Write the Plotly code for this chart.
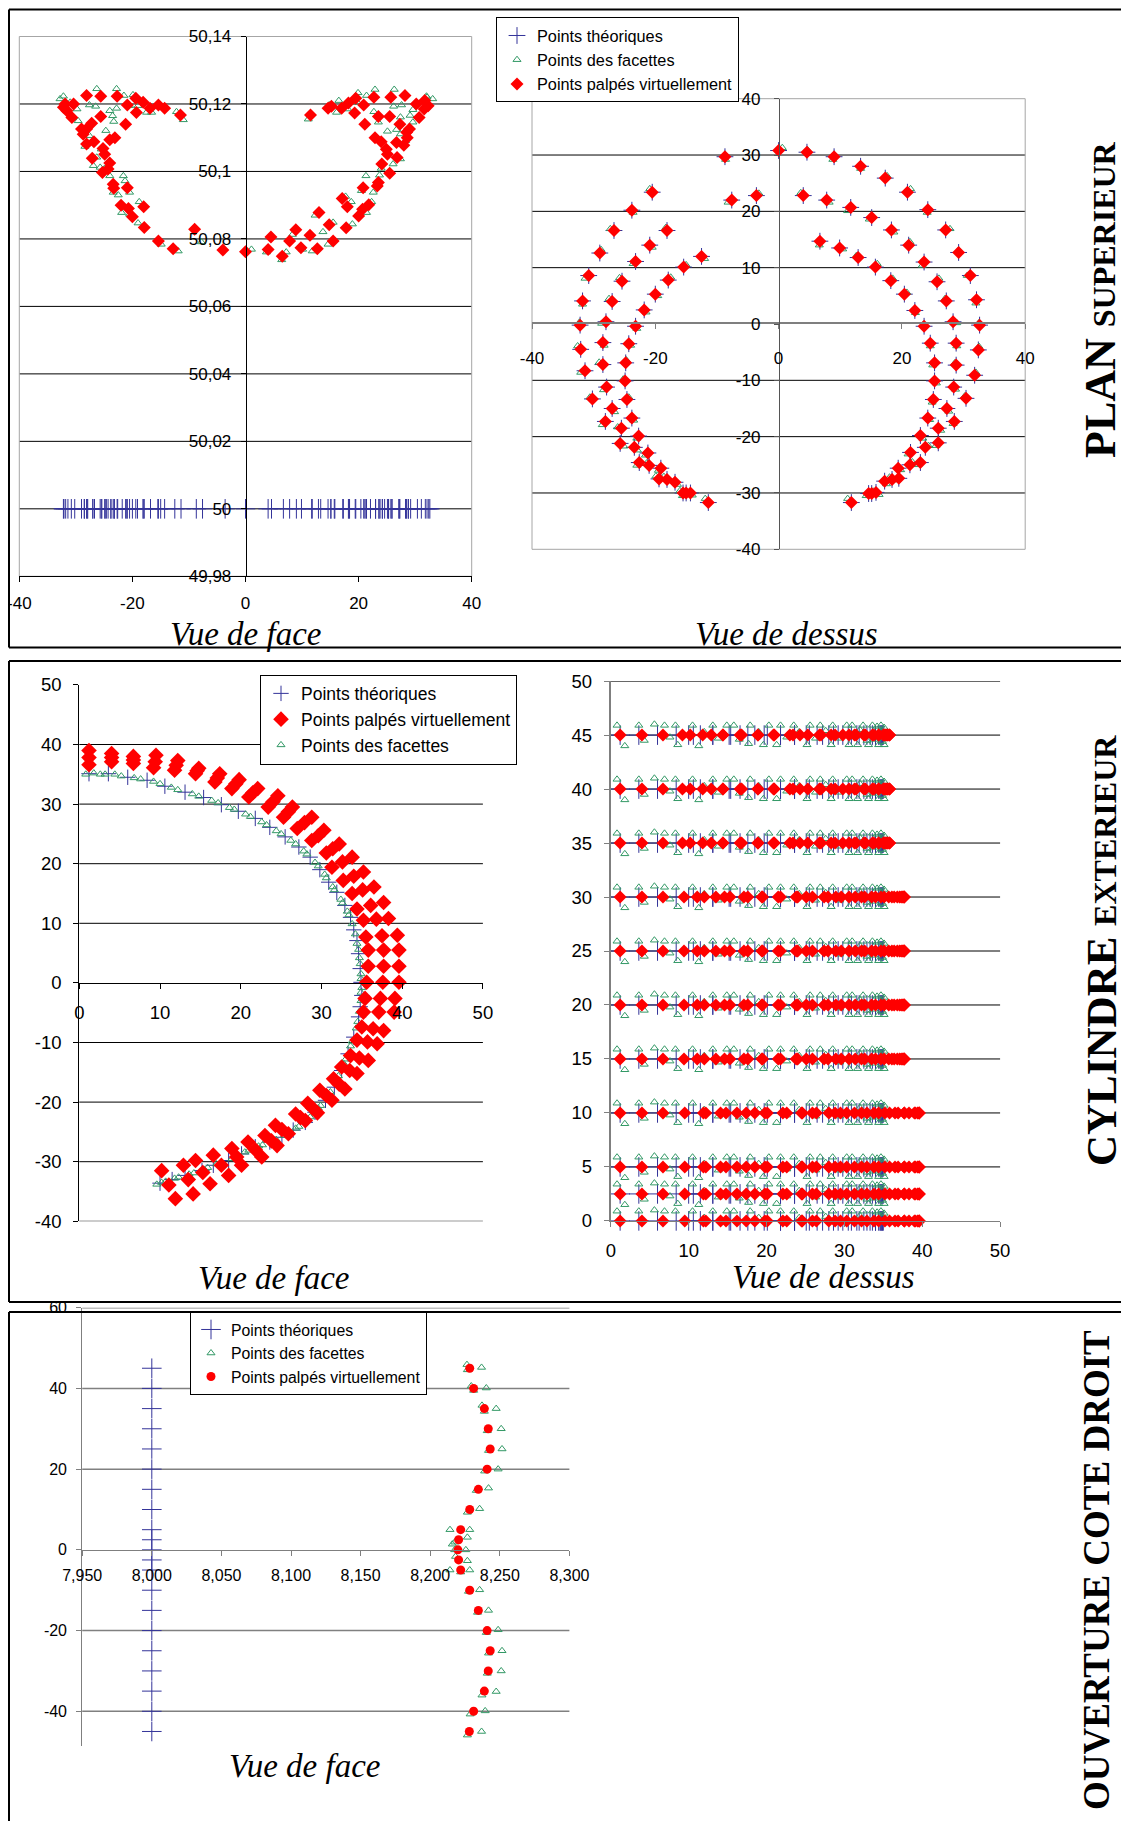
import plotly.graph_objects as go

# ======================= DATA =======================
# ---- PLAN SUPERIEUR : vue de dessus (x, y) ----
plan_palpe_x = [
    -11.4, -14.3, -15.0, -15.5, -19.4, -22.6, -25.7, -28.1, -30.2, -31.4,
    -32.1, -32.2, -31.8, -30.8, -29.0, -26.7, -23.8, -20.5, -8.7, 0.0,
    4.6, 9.0, 13.3, 17.3, 20.9, 24.2, 27.1, 29.2, 31.1, 32.1,
    32.6, 32.4, 31.8, 30.4, 28.5, 25.9, 23.0, 19.5, 15.8, 15.1, 14.6, 11.8,
    -16.8, -18.1, -21.0, -23.4, -25.5, -27.0, -27.9, -28.5, -28.5, -28.0,
    -27.0, -25.4, -23.2, -20.9, -18.1, -7.6, -3.6, 4.0, 7.8, 11.7,
    15.1, 18.3, 21.1, 23.6, 25.7, 27.2, 28.3, 28.8, 28.8, 28.4,
    27.3, 25.9, 23.8, 21.3, 18.4, 17.2,
    -19.1, -21.2, -22.7, -23.8, -24.6, -24.9, -24.8, -24.3, -23.2, -21.8,
    -20.0, -17.9, -15.4, -12.5, 6.7, 9.9, 12.9, 15.7, 18.2, 20.4,
    22.1, 23.6, 24.6, 25.3, 25.3, 25.1, 24.2, 23.0, 21.4, 19.4]
plan_palpe_y = [
    -31.7, -30.0, -30.0, -30.0, -27.5, -24.6, -21.2, -17.3, -13.3, -8.3,
    -4.5, -0.2, 4.1, 8.6, 12.6, 16.6, 20.2, 23.4, 29.7, 30.8,
    30.5, 29.7, 28.0, 25.9, 23.4, 20.3, 16.7, 12.7, 8.6, 4.3,
    -0.2, -4.6, -9.1, -13.2, -17.3, -21.1, -24.6, -27.4, -29.9, -30.1, -30.1, -31.7,
    -28.1, -27.6, -25.1, -21.9, -18.5, -15.0, -11.2, -7.2, -3.3, 0.4,
    4.0, 7.6, 11.1, 14.0, 16.6, 22.0, 22.8, 22.8, 22.0, 20.7,
    18.9, 16.7, 14.0, 11.0, 7.5, 4.1, 0.4, -3.4, -7.3, -11.2,
    -15.0, -18.5, -21.9, -25.0, -27.6, -27.9,
    -25.6, -22.9, -19.9, -16.7, -13.4, -10.1, -6.9, -3.5, -0.4, 2.5,
    5.3, 7.8, 10.1, 12.0, 14.7, 13.5, 11.8, 10.1, 7.7, 5.3,
    2.4, -0.4, -3.4, -6.9, -10.1, -13.4, -16.7, -19.8, -22.8, -25.6]
plan_theo_x = list(plan_palpe_x)
plan_theo_y = list(plan_palpe_y)
plan_facet_x = [
    -11.9, -14.0, -15.6, -16.0, -19.9, -23.0, -25.1, -28.6, -30.6, -32.1,
    -32.6, -32.3, -31.8, -31.4, -28.8, -27.3, -23.6, -20.9, -8.6, 0.6,
    4.7, 8.8, 13.3, 17.6, 21.4, 24.1, 27.8, 29.2, 30.6, 32.0,
    32.5, 32.5, 32.0, 30.2, 28.3, 25.5, 22.6, 19.2, 16.3, 15.4, 14.2, 11.2,
    -16.4, -18.6, -21.4, -22.9, -26.1, -26.6, -28.4, -29.1, -28.3, -28.7,
    -27.5, -25.8, -23.6, -20.5, -18.3, -8.2, -3.2, 3.6, 8.2, 11.2,
    14.7, 18.7, 21.3, 23.3, 26.0, 27.0, 28.9, 28.9, 28.6, 28.7,
    27.6, 26.3, 24.3, 21.7, 18.0, 17.5,
    -19.5, -21.6, -23.0, -23.5, -24.3, -25.2, -24.7, -24.0, -23.0, -21.5,
    -19.6, -17.5, -15.0, -12.0, 6.6, 10.4, 12.6, 16.0, 18.5, 20.8,
    22.2, 23.5, 24.6, 25.0, 25.6, 24.9, 24.5, 23.4, 21.0, 19.8]
plan_facet_y = [
    -31.0, -30.4, -30.5, -29.6, -27.0, -25.1, -21.7, -17.9, -13.0, -8.6,
    -3.9, 0.3, 3.5, 8.1, 13.2, 16.9, 19.8, 24.0, 29.2, 31.3,
    30.9, 29.2, 27.6, 26.3, 24.0, 19.8, 16.9, 13.1, 8.6, 3.7,
    0.2, -4.0, -8.6, -12.8, -17.7, -21.6, -25.0, -27.7, -30.3, -29.7, -30.5, -31.0,
    -28.5, -27.1, -24.7, -22.4, -18.3, -15.6, -11.7, -6.8, -3.8, 0.1,
    4.5, 8.2, 10.7, 13.6, 17.1, 21.6, 23.2, 23.3, 21.6, 20.1,
    18.6, 16.3, 14.6, 10.4, 8.1, 4.5, 0.2, -3.9, -6.9, -11.6,
    -15.5, -18.9, -21.6, -24.5, -27.2, -28.4,
    -26.0, -23.3, -20.3, -17.1, -13.0, -9.8, -6.4, -3.8, -0.8, 2.1,
    5.0, 8.3, 10.5, 11.6, 14.0, 13.3, 12.1, 10.7, 8.1, 5.6,
    2.0, -0.1, -3.9, -7.3, -10.5, -13.9, -17.0, -20.3, -23.1, -25.9]

# ---- PLAN SUPERIEUR : vue de face (x, z) ----
face_theo_x = list(plan_theo_x)
face_theo_z = [50.0] * len(face_theo_x)
face_palpe_x = [
    -31.9, -32.2, -31.6, -30.4, -30.7, -28.1, -25.6, -22.7, -20.9, -19.4,
    -19.3, -18.1, -16.9, -15.4, -14.3, -11.5, -25.6, -21.2, -27.2, -29.0,
    -28.1, -28.7, -26.8, -23.1, -24.0, -28.1, -25.2, -24.9, -27.1, -24.0,
    -24.3, -25.3, -23.4, -23.3, -20.9, -22.0, -20.7, -20.0, -18.0, -17.9,
    -15.4, -12.8, -9.0, -4.0, 0.0,
    4.0, 6.5, 4.5, 7.8, 9.8, 8.9, 11.4, 12.7, 15.5, 13.0,
    14.8, 17.8, 17.1, 18.0, 20.0, 20.7, 21.8, 20.8, 23.3, 23.5,
    24.1, 25.5, 24.9, 25.1, 26.8, 26.7, 28.0, 22.9, 24.0, 28.5,
    29.0, 28.6, 27.3, 21.1, 23.5, 25.5, 30.7, 19.3, 20.9, 18.2,
    19.5, 22.7, 25.7, 28.2, 30.2, 31.7, 32.3, 31.6, 17.0, 14.6, 15.2, 11.5]
face_palpe_z = [
    50.1200, 50.1190, 50.1180, 50.1200, 50.1160, 50.1225, 50.1223, 50.1223, 50.1197, 50.1217,
    50.1175, 50.1205, 50.1187, 50.1197, 50.1187, 50.1167, 50.1163, 50.1140, 50.1143, 50.1126,
    50.1126, 50.1110, 50.1088, 50.1100, 50.1094, 50.1081, 50.1068, 50.1051, 50.1039, 50.1025,
    50.1007, 50.0997, 50.0962, 50.0950, 50.0952, 50.0900, 50.0890, 50.0866, 50.0895, 50.0834,
    50.0794, 50.0771, 50.0829, 50.0767, 50.0762,
    50.0769, 50.0749, 50.0806, 50.0794, 50.0774, 50.0827, 50.0811, 50.0771, 50.0794, 50.0878,
    50.0842, 50.0833, 50.0920, 50.0895, 50.0868, 50.0888, 50.0901, 50.0952, 50.0957, 50.0967,
    50.1022, 50.0995, 50.1066, 50.1051, 50.1041, 50.1086, 50.1078, 50.1100, 50.1088, 50.1116,
    50.1126, 50.1100, 50.1140, 50.1140, 50.1163, 50.1163, 50.1160, 50.1173, 50.1197, 50.1203,
    50.1217, 50.1220, 50.1220, 50.1225, 50.1200, 50.1210, 50.1195, 50.1185, 50.1187, 50.1187, 50.1193, 50.1167]
face_facet_x = [
    -26.3, -22.8, -32.2, -19.9, -21.5, -27.6, -26.5, -29.8, -24.0, -22.8,
    -20.5, -19.0, -17.5, -16.6, -12.2, -11.0, -23.5, -23.3, -29.6, -24.7,
    -27.6, -28.4, -25.5, -26.3, -26.9, -25.7, -24.9, -24.0, -21.6, -21.3,
    -23.4, -22.5, -20.5, -21.9, -20.5, -18.8, -19.0, -14.9, -11.9, -7.8,
    -32.8, -31.0, -14.5,
    1.05, 3.7, 6.4, 7.2, 8.3, 10.1, 11.8, 12.3, 13.7, 14.6,
    15.5, 17.7, 18.7, 18.9, 20.5, 21.3, 21.4, 22.3, 22.6, 23.7,
    24.0, 25.1, 26.1, 27.4, 27.4, 28.3, 26.7, 29.6, 29.1, 27.4,
    25.1, 23.5, 22.7, 26.2, 27.6, 29.6, 22.9, 26.3, 21.4, 19.9,
    19.8, 18.1, 16.5, 16.1, 14.8, 11.1, 32.1, 33.1, 32.0]
face_facet_z = [
    50.1245, 50.1245, 50.1223, 50.1227, 50.1225, 50.1197, 50.1193, 50.1185, 50.1180, 50.1187,
    50.1195, 50.1195, 50.1175, 50.1175, 50.1177, 50.1153, 50.1165, 50.1148, 50.1150, 50.1121,
    50.1106, 50.1074, 50.1066, 50.1042, 50.1017, 50.1012, 50.1009, 50.0987, 50.0987, 50.0972,
    50.0938, 50.0930, 50.0938, 50.0878, 50.0873, 50.0910, 50.0847, 50.0784, 50.0764, 50.0791,
    50.1215, 50.1205, 50.1190,
    50.0769, 50.0761, 50.0738, 50.0761, 50.0813, 50.0769, 50.0764, 50.0870, 50.0821, 50.0784,
    50.0849, 50.0926, 50.0910, 50.0844, 50.0943, 50.0987, 50.0878, 50.0910, 50.0938, 50.0989,
    50.1009, 50.1051, 50.1022, 50.1037, 50.1111, 50.1091, 50.1124, 50.1146, 50.1166, 50.1161,
    50.1119, 50.1146, 50.1177, 50.1193, 50.1197, 50.1183, 50.1243, 50.1243, 50.1225, 50.1233,
    50.1205, 50.1185, 50.1210, 50.1175, 50.1197, 50.1155, 50.1220, 50.1215, 50.1223]

# ---- CYLINDRE EXTERIEUR : vue de face (x, y) ----
cyl_theo_x = [1.2, 3.6, 6.0, 8.4, 10.6, 13.1, 15.4, 17.6, 19.7, 21.8,
              23.6, 25.5, 27.2, 28.6, 29.8, 30.9, 31.9, 32.9, 33.6, 34.0,
              34.4, 34.6, 34.8, 34.9, 35.0, 34.8, 34.6, 34.0, 33.3, 32.5,
              31.6, 30.5, 29.2, 28.0, 26.5, 25.1, 23.6, 21.8, 20.1, 18.5,
              16.6, 15.2, 13.1, 11.5, 10.0]
cyl_theo_y = [35.1, 35.1, 34.5, 34.0, 33.0, 32.0, 31.1, 29.9, 28.8, 27.6,
              26.1, 24.5, 22.8, 21.1, 19.0, 16.9, 15.2, 13.0, 11.0, 8.9,
              7.1, 4.9, 2.4, 0.1, -2.1, -4.0, -5.7, -9.1, -11.9, -14.7,
              -17.5, -19.7, -21.7, -23.4, -24.7, -25.9, -26.7, -27.5, -28.7, -29.8,
              -30.6, -31.5, -32.3, -33.0, -33.6]
cyl_facet_x = [-0.3, 0.8, 1.8, 2.6, 3.2, 4.4, 5.2, 6.8, 7.6, 9.2, 10.0, 11.4, 12.2, 14.0, 14.8,
               16.4, 17.2, 18.6, 19.2, 20.6, 21.2, 22.6, 23.2, 24.4, 25.0, 26.2, 26.8, 27.8,
               28.2, 29.2, 29.6, 30.4, 30.6, 31.4, 31.6, 32.4, 32.6, 33.2, 33.4, 33.8, 34.2,
               34.4, 34.6, 34.7, 34.8, 34.9, 34.9, 35.0, 34.9, 34.9, 34.7, 34.5, 34.3, 33.8,
               33.6, 33.0, 32.8, 32.1, 31.9, 31.1, 30.8, 29.9, 29.6, 28.6, 28.3, 27.2, 26.8,
               25.8, 25.4, 24.4, 23.9, 22.7, 22.2, 21.0, 20.5, 19.3, 18.9, 17.6, 17.0, 15.9,
               15.5, 14.2, 13.6, 12.3, 11.8, 10.7, 10.2, 9.6]
cyl_facet_y = [35.0, 35.0, 35.2, 35.0, 35.0, 35.0, 34.7, 34.4, 34.2, 33.8, 33.4, 32.8, 32.4, 31.7, 31.3,
               30.6, 30.2, 29.4, 29.1, 28.3, 27.9, 27.0, 26.5, 25.5, 25.0, 23.9, 23.3, 22.1,
               21.6, 20.2, 19.6, 18.2, 17.6, 16.1, 15.6, 14.0, 13.4, 12.0, 11.4, 9.9, 8.2,
               6.6, 5.6, 4.2, 3.2, 1.5, 0.7, -0.8, -1.6, -3.0, -4.8, -6.5, -7.6, -9.8,
               -10.6, -12.8, -13.6, -15.6, -16.3, -18.3, -18.9, -20.6, -21.0, -22.5, -22.9, -24.1, -24.4,
               -25.3, -25.6, -26.3, -26.6, -27.2, -27.4, -28.1, -28.4, -29.2, -29.5, -30.2, -30.4, -31.0,
               -31.3, -31.9, -32.1, -32.6, -32.8, -33.3, -33.5, -33.8]
# red streaks: outer / middle / inner end of each probed streak
cyl_palpe_out_x = [1.2, 4.0, 6.7, 9.5, 12.2, 14.8, 17.4, 19.8, 22.1, 24.6, 26.4, 28.8, 30.3, 32.2,
                   33.8, 35.2, 36.5, 37.7, 38.3, 39.4, 39.6, 39.6, 39.6, 39.1, 39.0, 37.7, 36.9,
                   35.8, 34.4, 32.9, 31.3, 29.5, 28.0, 25.9, 24.5, 22.6, 20.1, 18.5, 16.2, 14.1, 11.9]
cyl_palpe_out_y = [39.0, 38.5, 38.0, 38.2, 37.3, 36.0, 35.1, 34.1, 32.6, 31.4, 29.5, 27.8, 25.6, 23.3,
                   21.1, 18.6, 16.1, 13.5, 10.8, 8.0, 5.5, 2.8, 0.1, -2.6, -4.9, -8.0, -10.2,
                   -13.0, -15.2, -17.8, -19.7, -21.8, -23.1, -25.3, -27.3, -29.2, -30.6, -32.3, -33.7, -35.4, -36.2]
cyl_palpe_mid_x = [1.2, 4.0, 6.7, 9.4, 12.0, 14.6, 17.1, 19.4, 21.5, 24.0, 25.9, 27.9, 29.6, 31.4,
                   32.6, 34.0, 35.1, 36.1, 36.8, 37.5, 37.7, 37.7, 37.6, 37.3, 37.1, 36.4, 35.7,
                   34.7, 33.5, 32.2, 30.6, 28.9, 27.4, 25.1, 23.8, 21.8, 19.5, 17.6, 15.3, 13.5, 11.1]
cyl_palpe_mid_y = [37.8, 37.8, 37.4, 37.1, 36.5, 35.6, 34.4, 33.4, 31.9, 30.4, 28.7, 26.9, 24.7, 22.5,
                   20.3, 17.9, 15.6, 13.0, 10.7, 7.9, 5.5, 2.8, 0.1, -2.6, -4.9, -7.7, -9.9,
                   -12.6, -14.7, -17.0, -18.9, -21.0, -22.6, -24.6, -26.5, -28.0, -29.2, -30.6, -31.8, -33.0, -33.9]
cyl_palpe_in_x = [1.2, 4.0, 6.7, 9.2, 11.8, 14.4, 16.8, 18.9, 21.0, 23.4, 25.3, 27.0, 28.8, 30.6,
                  31.3, 32.7, 33.8, 34.4, 35.2, 35.5, 35.8, 35.8, 35.6, 35.4, 35.2, 35.0, 34.4,
                  33.6, 32.5, 31.5, 29.8, 28.3, 26.8, 24.3, 23.0, 20.9, 18.9, 16.6, 14.4, 12.9, 10.2]
cyl_palpe_in_y = [36.6, 37.1, 36.8, 36.1, 35.7, 35.1, 33.7, 32.6, 31.2, 29.5, 27.8, 25.9, 23.9, 21.8,
                  19.4, 17.2, 15.0, 12.4, 10.5, 7.7, 5.5, 2.8, 0.1, -2.6, -4.9, -7.4, -9.6,
                  -12.2, -14.1, -16.1, -18.0, -20.2, -22.0, -23.9, -25.6, -26.7, -27.8, -28.9, -29.8, -30.6, -31.5]

# ---- CYLINDRE EXTERIEUR : vue de dessus (x, z) ----
cyl_levels_out = [0, 2.5, 5, 10]
cyl_levels_mid = [15, 20, 25, 30]
cyl_levels_in = [35, 40, 45]
cyl_top_facet_x = [0.8, 1.8, 3.6, 4.3, 5.6, 6.9, 7.6, 8.3, 8.6, 10.5, 11.3, 12.0, 13.1, 13.8, 14.9,
                   15.8, 16.5, 17.7, 17.9, 19.0, 19.6, 20.3, 21.3, 21.8, 22.6, 23.5, 24.2, 25.2,
                   25.6, 26.3, 26.9, 27.6, 28.3, 28.5, 29.4, 30.3, 30.6, 31.0, 31.7, 32.0, 32.4,
                   32.9, 33.1, 33.6, 33.8, 34.2, 34.4, 34.7, 34.9, 35.1, 35.1, 34.9]
cyl_top_facet_dz = [0.9, -1.0, 0.9, -0.5, 1.0, 0.9, -0.2, 0.9, -0.9, 0.9, -1.0, 0.3, 0.9, -0.3, 0.9,
                    0.9, -0.4, -0.8, 0.9, 0.3, -0.9, 0.9, -0.9, 0.9, -0.2, 0.9, 0.3, -0.9,
                    0.9, -0.3, 0.9, 0.4, -0.9, 0.9, -0.3, 0.9, -0.9, 0.9, -0.9, 0.5, 0.9,
                    -0.5, -0.9, 0.9, -0.4, 0.8, -0.9, 0.9, -0.6, 0.7, -0.9, 0.3]

# ---- OUVERTURE COTE DROIT : vue de face (x, y) ----
ouv_y = [45, 40, 35, 30, 25, 20, 15, 10, 5, 2.5, 0, -2.5, -5, -10, -15, -20, -25, -30, -35, -40, -45]
ouv_theo_x = [8.000] * len(ouv_y)
ouv_palpe_x = [8.2284, 8.2312, 8.2389, 8.2417, 8.2431, 8.2409, 8.2346, 8.2284, 8.2219, 8.2204, 8.2199,
               8.2204, 8.2219, 8.2284, 8.2346, 8.2409, 8.2431, 8.2417, 8.2389, 8.2312, 8.2281]
ouv_facet_x = [8.2267, 8.2369, 8.2264, 8.2295, 8.2403, 8.2312, 8.2372, 8.2474, 8.2389, 8.2410,
               8.2510, 8.2419, 8.2516, 8.2391, 8.2488, 8.2331, 8.2419, 8.2267, 8.2355, 8.2142,
               8.2284, 8.2267, 8.2176, 8.2159, 8.2176, 8.2256, 8.2182, 8.2267, 8.2142, 8.2284,
               8.2219, 8.2275, 8.2355, 8.2340, 8.2419, 8.2403, 8.2488, 8.2419, 8.2516, 8.2410,
               8.2510, 8.2372, 8.2474, 8.2287, 8.2395, 8.2267, 8.2369]
ouv_facet_y = [44.6, 45.2, 45.9, 40.6, 40.1, 39.5, 35.8, 35.0, 34.3, 29.5,
               30.0, 24.6, 25.0, 19.5, 20.0, 14.7, 15.3, 9.3, 10.2, 5.0,
               5.0, 3.1, 1.9, 1.4, 0.0, 0.0, -1.65, -2.7, -5.0, -5.0,
               -5.5, -10.3, -9.9, -15.5, -15.0, -20.5, -19.8, -25.6, -25.0, -30.6,
               -30.0, -36.0, -35.1, -40.7, -39.9, -45.9, -45.0]

# tick values / labels
p1f_xt = [-40, -20, 0, 20, 40]
p1f_yt = [49.98, 50.0, 50.02, 50.04, 50.06, 50.08, 50.10, 50.12, 50.14]
p1f_ytl = ["49,98", "50", "50,02", "50,04", "50,06", "50,08", "50,1", "50,12", "50,14"]
p1d_xt = [-40, -20, 0, 20, 40]
p1d_yt = [-40, -30, -20, -10, 0, 10, 20, 30, 40]
p2f_xt = [0, 10, 20, 30, 40, 50]
p2f_yt = [-40, -30, -20, -10, 0, 10, 20, 30, 40, 50]
p2d_xt = [0, 10, 20, 30, 40, 50]
p2d_yt = [0, 5, 10, 15, 20, 25, 30, 35, 40, 45, 50]
p3_xt = [7.95, 8.00, 8.05, 8.10, 8.15, 8.20, 8.25, 8.30]
p3_xtl = ["7,950", "8,000", "8,050", "8,100", "8,150", "8,200", "8,250", "8,300"]
p3_yt = [-40, -20, 0, 20, 40, 60]

LBL_THEO = "Points théoriques"
LBL_FACET = "Points des facettes"
LBL_PALPE = "Points palpés virtuellement"

# ======================= STYLE / LAYOUT =======================
W, H = 1129, 1821
OFF = 8  # the page places the figure 8 px from the window's top-left corner
def fx(px): return (px - OFF) / W
def fy(py): return 1 - (py - OFF) / H

BLUE = '#333399'
GREEN = '#339966'
RED = '#FF0000'
SANS = 'Liberation Sans, Arial, sans-serif'
SERIF = 'Liberation Serif, Times New Roman, serif'

fig = go.Figure()

def theo(x, y, xa, ya, lg, show, size=12):
    fig.add_trace(go.Scatter(x=x, y=y, mode='markers', name=LBL_THEO, xaxis=xa, yaxis=ya,
                             legend=lg, showlegend=show, legendrank=1, legendgroup=lg + 'a',
                             cliponaxis=False,
                             marker=dict(symbol='cross-thin', size=size, color=BLUE,
                                         line=dict(color=BLUE, width=1))))

def facet(x, y, xa, ya, lg, show, rank, size=7):
    fig.add_trace(go.Scatter(x=x, y=y, mode='markers', name=LBL_FACET, xaxis=xa, yaxis=ya,
                             legend=lg, showlegend=show, legendrank=rank, legendgroup=lg + 'b',
                             cliponaxis=False,
                             marker=dict(symbol='triangle-up-open', size=size, color=GREEN,
                                         line=dict(color=GREEN, width=1))))

def palpe(x, y, xa, ya, lg, show, rank, size=10, symbol='diamond'):
    fig.add_trace(go.Scatter(x=x, y=y, mode='markers', name=LBL_PALPE, xaxis=xa, yaxis=ya,
                             legend=lg, showlegend=show, legendrank=rank, legendgroup=lg + 'c',
                             cliponaxis=False,
                             marker=dict(symbol=symbol, size=size, color=RED, line=dict(width=0))))

# Panel 1 - face (x, y) and dessus (x2, y2) ; legend 1
theo(face_theo_x, face_theo_z, 'x', 'y', 'legend', False, size=14)
facet(face_facet_x, face_facet_z, 'x', 'y', 'legend', False, 2)
palpe(face_palpe_x, face_palpe_z, 'x', 'y', 'legend', False, 3)
theo(plan_theo_x, plan_theo_y, 'x2', 'y2', 'legend', True, size=12)
facet(plan_facet_x, plan_facet_y, 'x2', 'y2', 'legend', True, 2)
palpe(plan_palpe_x, plan_palpe_y, 'x2', 'y2', 'legend', True, 3)

# Panel 2 - face (x3, y3) ; legend 2
theo(cyl_theo_x, cyl_theo_y, 'x3', 'y3', 'legend2', True, size=11)
facet(cyl_facet_x, cyl_facet_y, 'x3', 'y3', 'legend2', True, 3, size=7)
palpe(cyl_palpe_out_x + cyl_palpe_mid_x + cyl_palpe_in_x,
      cyl_palpe_out_y + cyl_palpe_mid_y + cyl_palpe_in_y, 'x3', 'y3', 'legend2', True, 2, size=12)

# Panel 2 - dessus (x4, y4)
top_theo_x, top_theo_z = [], []
top_facet_x, top_facet_z = [], []
top_palpe_x, top_palpe_z = [], []
for lev in cyl_levels_out + cyl_levels_mid + cyl_levels_in:
    top_theo_x += cyl_theo_x
    top_theo_z += [lev] * len(cyl_theo_x)
    top_facet_x += cyl_top_facet_x
    top_facet_z += [lev + d for d in cyl_top_facet_dz]
for levs, src in ((cyl_levels_out, cyl_palpe_out_x), (cyl_levels_mid, cyl_palpe_mid_x),
                  (cyl_levels_in, cyl_palpe_in_x)):
    for lev in levs:
        top_palpe_x += src
        top_palpe_z += [lev] * len(src)
theo(top_theo_x, top_theo_z, 'x4', 'y4', 'legend2', False, size=14)
facet(top_facet_x, top_facet_z, 'x4', 'y4', 'legend2', False, 3, size=7)
palpe(top_palpe_x, top_palpe_z, 'x4', 'y4', 'legend2', False, 2, size=10)

# Panel 3 (x5, y5) ; legend 3
theo(ouv_theo_x, ouv_y, 'x5', 'y5', 'legend3', True, size=14)
facet(ouv_facet_x, ouv_facet_y, 'x5', 'y5', 'legend3', True, 2, size=7)
palpe(ouv_palpe_x, ouv_y, 'x5', 'y5', 'legend3', True, 3, size=9, symbol='circle')

def axis(domain, rng, tickvals, ticktext=None, size=17, color='black', lw=1, standoff=4, **kw):
    d = dict(domain=domain, range=rng, tickmode='array', tickvals=tickvals,
             ticktext=ticktext if ticktext is not None else [str(v) for v in tickvals],
             showgrid=False, zeroline=False, showline=True, linecolor=color, linewidth=lw,
             ticks='outside', ticklen=5, tickcolor=color, tickwidth=1,
             ticklabelstandoff=standoff, automargin=False, ticklabeloverflow='allow',
             tickfont=dict(family=SANS, size=size, color='black'))
    d.update(kw)
    return d

legend_common = dict(xanchor='left', yanchor='top', bgcolor='white', bordercolor='black',
                     borderwidth=1, traceorder='grouped', tracegroupgap=0, itemwidth=30)

fig.update_layout(
    width=W, height=H, margin=dict(l=0, r=0, t=0, b=0, pad=0, autoexpand=False),
    paper_bgcolor='white', plot_bgcolor='white',
    # panel 1 face
    xaxis=axis([fx(19.3), fx(471.7)], [-40, 40], p1f_xt, anchor='y', standoff=6),
    yaxis=axis([fy(576.3), fy(36.5)], [49.98, 50.14], p1f_yt, p1f_ytl, anchor='free',
               position=fx(245.7), standoff=6),
    # panel 1 dessus
    xaxis2=axis([fx(532), fx(1025.2)], [-40, 40], p1d_xt, anchor='free', position=fy(323.4),
                color='#7f7f7f', lw=2, standoff=14),
    yaxis2=axis([fy(549.3), fy(98.7)], [-40, 40], p1d_yt, anchor='free', position=fx(778.8),
                color='#555555', standoff=10),
    # panel 2 face
    xaxis3=axis([fx(79.3), fx(482.9)], [0, 50], p2f_xt, anchor='free', position=fy(982.5),
                size=18.5, standoff=8),
    yaxis3=axis([fy(1221.3), fy(684.9)], [-40, 50], p2f_yt, anchor='x3', size=18.5, standoff=8),
    # panel 2 dessus
    xaxis4=axis([fx(610.8), fx(1000.1)], [0, 50], p2d_xt, anchor='y4', size=18.5,
                color='#7f7f7f', standoff=8),
    yaxis4=axis([fy(1220.9), fy(681.1)], [0, 50], p2d_yt, anchor='x4', size=18.5,
                color='#7f7f7f', lw=2, standoff=8),
    # panel 3
    xaxis5=axis([fx(82.2), fx(569.4)], [7.95, 8.30], p3_xt, p3_xtl, anchor='free',
                position=fy(1550), size=16, color='#7f7f7f', standoff=6),
    yaxis5=axis([fy(1746), fy(1307.7)], [-48.6, 60], p3_yt, anchor='x5', size=16,
                color='#7f7f7f', standoff=6),
    legend=dict(x=fx(496), y=fy(17.4), font=dict(family=SANS, size=16.3, color='black'),
                **legend_common),
    legend2=dict(x=fx(260), y=fy(674.5), font=dict(family=SANS, size=17.5, color='black'),
                 **legend_common),
    legend3=dict(x=fx(190), y=fy(1311.7), font=dict(family=SANS, size=15.8, color='black'),
                 **legend_common),
)

shapes = []
def grid(xr, yr, vals, color='black', width=1):
    for v in vals:
        shapes.append(dict(type='line', xref=xr + ' domain', yref=yr, x0=0, x1=1, y0=v, y1=v,
                           line=dict(color=color, width=width), layer='below'))

grid('x', 'y', p1f_yt[1:-1])
grid('x2', 'y2', [v for v in p1d_yt[1:-1] if v != 0])
grid('x3', 'y3', [v for v in p2f_yt if v not in (0, 50)])
grid('x4', 'y4', p2d_yt[1:])
grid('x5', 'y5', [v for v in p3_yt if v != 0], color='#808080', width=1.5)

for xr, yr in (('x', 'y'), ('x2', 'y2')):
    shapes.append(dict(type='rect', xref=xr + ' domain', yref=yr + ' domain', x0=0, x1=1, y0=0, y1=1,
                       line=dict(color='#a6a6a6', width=1), layer='below'))

# panel frames
def pline(x0, y0, x1, y1):
    shapes.append(dict(type='line', xref='paper', yref='paper', x0=fx(x0), x1=fx(x1),
                       y0=fy(y0), y1=fy(y1), line=dict(color='black', width=2), layer='above'))
for top, bot in ((9.5, 647.6), (661, 1302), (1312, 1830)):
    pline(9, top, W + OFF, top)
    pline(9, top, 9, bot)
    if bot < H:
        pline(9, bot, W + OFF, bot)

fig.update_layout(shapes=shapes)

ann = []
def title(text, x, y):
    ann.append(dict(text=text, x=fx(x), y=fy(y), xref='paper', yref='paper', showarrow=False,
                    xanchor='center', yanchor='middle',
                    font=dict(family=SERIF, size=33, color='black', style='italic')))
title("Vue de face", 245.7, 634)
title("Vue de dessus", 787, 634)
title("Vue de face", 273, 1278)
title("Vue de dessus", 823.8, 1277)
title("Vue de face", 304.5, 1766)

def side(text, x, y, size):
    ann.append(dict(text=text, x=fx(x), y=fy(y), xref='paper', yref='paper', showarrow=False,
                    xanchor='center', yanchor='middle', textangle=-90,
                    font=dict(family=SERIF, size=size, color='black')))
side("<b>PLAN <span style='font-size:32px'>SUPERIEUR</span></b>", 1100, 300, 44)
side("<b>CYLINDRE <span style='font-size:32px'>EXTERIEUR</span></b>", 1101, 951, 43)
side("<b>OUVERTURE COTE DROIT</b>", 1096, 1570, 37)
fig.update_layout(annotations=ann)

fig.write_html("out.html")
